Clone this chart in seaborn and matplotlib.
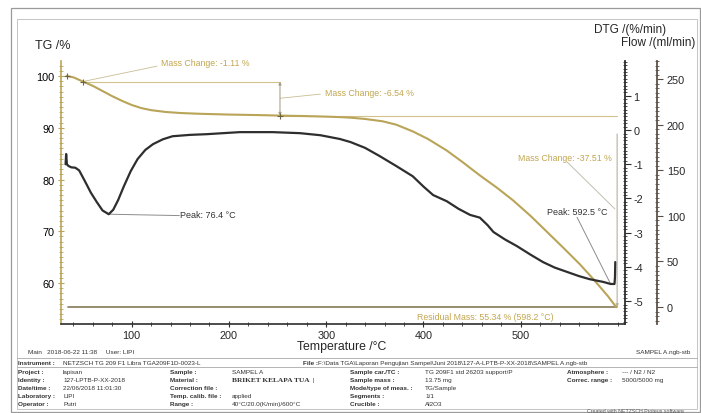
import numpy as np
import pandas as pd
import matplotlib
matplotlib.use("Agg")
import matplotlib.pyplot as plt
from matplotlib.ticker import MultipleLocator
from matplotlib.lines import Line2D
from matplotlib.patches import Rectangle
import seaborn as sns

# ---- measured curves -------------------------------------------------------
# TG (mass, %) versus temperature (°C)
tg_temp = [33, 40, 50.3, 60, 70, 80, 90, 100, 110, 120, 135, 150, 170, 200, 230,
           252.5, 280, 300, 315, 325, 340, 358, 372, 389, 405, 424, 440, 458, 475,
           492, 510, 527, 545, 561, 575, 590, 598.2]
tg_mass = [100.0, 99.75, 98.89, 98.1, 97.1, 96.1, 95.2, 94.4, 93.8, 93.4, 93.05,
           92.85, 92.7, 92.55, 92.45, 92.35, 92.25, 92.15, 92.05, 91.95, 91.7, 91.25,
           90.6, 89.3, 87.8, 85.6, 83.4, 80.8, 78.5, 76.0, 73.0, 69.9, 66.6, 63.6,
           60.7, 57.4, 55.34]

# DTG (%/min) versus temperature (°C)
dtg_temp = [32, 32.6, 33.4, 35, 38, 42, 46, 52, 58, 64, 70, 76.4, 81, 86, 92, 99,
            106, 114, 122, 132, 142, 160, 177, 211, 245, 273, 294, 314, 325, 340,
            355, 372, 389, 400, 410, 424, 436, 448, 458, 466, 472, 484, 496, 510,
            523, 535, 548, 560, 571, 585, 592.5, 596.5, 597, 597.3]
dtg_rate = [-1.00, -0.70, -1.00, -1.05, -1.09, -1.10, -1.18, -1.50, -1.83, -2.10,
            -2.35, -2.46, -2.33, -2.05, -1.64, -1.20, -0.85, -0.58, -0.41, -0.27,
            -0.18, -0.14, -0.12, -0.06, -0.06, -0.09, -0.15, -0.26, -0.35, -0.52,
            -0.76, -1.05, -1.35, -1.65, -1.90, -2.08, -2.30, -2.48, -2.56, -2.78,
            -2.98, -3.20, -3.39, -3.64, -3.86, -4.02, -4.15, -4.27, -4.36, -4.44,
            -4.50, -4.50, -4.30, -3.86]

# evaluated steps
step1_start, step1_end = 50.3, 252.5
mass_start = 100.0
mass_after_step1 = 98.89
mass_after_step2 = 92.35
residual_mass = 55.34
residual_temp = 598.2
peak1_temp, peak1_rate = 76.4, -2.46
peak2_temp, peak2_rate = 592.5, -4.50

change_labels = ["Mass Change: -1.11 %", "Mass Change: -6.54 %", "Mass Change: -37.51 %"]
peak_labels = ["Peak: 76.4 °C", "Peak: 592.5 °C"]
residual_label = "Residual Mass: 55.34 % (598.2 °C)"

temp_ticks = [100, 200, 300, 400, 500]
tg_ticks = [60, 70, 80, 90, 100]
dtg_ticks = [-5, -4, -3, -2, -1, 0, 1]
flow_ticks = [0, 50, 100, 150, 200, 250]

# ---- style -----------------------------------------------------------------
sns.set_style("white")
plt.rcParams["font.family"] = ["Liberation Sans", "DejaVu Sans"]
plt.rcParams["axes.unicode_minus"] = False

TAN = "#b9a458"
TAN_LIGHT = "#d2c28e"
TAN_TEXT = "#c2a650"
GREY = "#8c8c8c"
DARK = "#2e2e2e"

W, H = 701, 414
fig = plt.figure(figsize=(W / 100, H / 100), dpi=100)


def fx(px):
    return px / W


def fy(py):
    return 1 - py / H


ax = fig.add_axes([fx(61), fy(325), fx(625) - fx(61), fy(62) - fy(325)])
ax.set_xlim(27.3, 607.3)
ax.set_ylim(52.08, 102.9)

ax2 = ax.twinx()
ax2.set_ylim(-5.67, 2.02)
ax3 = ax.twinx()
ax3.set_ylim(-18.6, 270)
ax3.spines["right"].set_position(("axes", (657 - 61) / (625 - 61)))

for a in (ax, ax2, ax3):
    a.patch.set_visible(False)
    for s in a.spines.values():
        s.set_visible(False)

# TG axis
ax.spines["left"].set_visible(True)
ax.spines["left"].set_color(TAN)
ax.spines["left"].set_linewidth(1.2)
ax.spines["bottom"].set_visible(True)
ax.spines["bottom"].set_color(DARK)
ax.spines["bottom"].set_linewidth(1.2)
ax.set_yticks(tg_ticks)
ax.yaxis.set_minor_locator(MultipleLocator(1))
ax.set_xticks(temp_ticks)
ax.xaxis.set_minor_locator(MultipleLocator(20))
ax.tick_params(axis="y", which="major", direction="inout", length=5, width=0.8,
               color=TAN, labelsize=7.8, labelcolor="black", pad=2, left=True)
ax.tick_params(axis="y", which="minor", direction="inout", length=2.5, width=0.6,
               color=TAN, left=True)
ax.tick_params(axis="x", which="major", direction="inout", length=5, width=0.8,
               color=DARK, labelsize=7.8, pad=2, bottom=True)
ax.tick_params(axis="x", which="minor", direction="inout", length=3, width=0.6,
               color=DARK, bottom=True)

# DTG axis
ax2.spines["right"].set_visible(True)
ax2.spines["right"].set_color(DARK)
ax2.spines["right"].set_linewidth(1.3)
ax2.set_yticks(dtg_ticks)
ax2.yaxis.set_minor_locator(MultipleLocator(0.1))
ax2.tick_params(axis="y", which="major", direction="out", length=4, width=0.8,
                color=DARK, labelsize=7.8, pad=2, right=True)
ax2.tick_params(axis="y", which="minor", direction="inout", length=3, width=0.6,
                color=DARK, right=True)

# Flow axis
ax3.spines["right"].set_visible(True)
ax3.spines["right"].set_color("#5a5048")
ax3.spines["right"].set_linewidth(1.3)
ax3.set_yticks(flow_ticks)
ax3.yaxis.set_minor_locator(MultipleLocator(5))
ax3.tick_params(axis="y", which="major", direction="out", length=4, width=0.8,
                color="#5a5048", labelsize=7.8, pad=3, right=True)
ax3.tick_params(axis="y", which="minor", direction="inout", length=2.5, width=0.6,
                color="#5a5048", right=True)

# ---- curves ----------------------------------------------------------------
tg_df = pd.DataFrame({"T": tg_temp, "TG": tg_mass})
dtg_df = pd.DataFrame({"T": dtg_temp, "DTG": dtg_rate})
sns.lineplot(data=tg_df, x="T", y="TG", ax=ax, color=TAN, lw=1.5, sort=False,
             estimator=None, zorder=4)
sns.lineplot(data=dtg_df, x="T", y="DTG", ax=ax2, color=DARK, lw=1.6, sort=False,
             estimator=None, zorder=4)
for a in (ax, ax2, ax3):
    a.set_xlabel("")
    a.set_ylabel("")
ax.set_xlim(27.3, 607.3)

# ---- TG evaluation ---------------------------------------------------------
ax.plot([tg_temp[0], step1_start, step1_end], [mass_start, mass_after_step1, mass_after_step2],
        ls="none", marker="+", ms=4, mew=0.8, color="#6e6440", zorder=5)
ax.plot([step1_start, step1_end], [mass_after_step1, mass_after_step1], color=TAN_LIGHT, lw=0.8)
ax.plot([step1_end, residual_temp + 1], [mass_after_step2, mass_after_step2], color=TAN_LIGHT, lw=0.8)
ax.annotate("", xy=(step1_end, mass_after_step2), xytext=(step1_end, mass_after_step1),
            arrowprops=dict(arrowstyle="<|-|>", color="#a09a80", lw=0.7,
                            mutation_scale=4, shrinkA=0, shrinkB=0))
ax.annotate("", xy=(residual_temp + 1, residual_mass), xytext=(residual_temp + 1, 88.8),
            arrowprops=dict(arrowstyle="-|>", color="#b8b29a", lw=0.8,
                            mutation_scale=4, shrinkA=0, shrinkB=0))
ax.plot([34, residual_temp + 1], [residual_mass, residual_mass], color="#857a55", lw=1.2, zorder=3)

ax.text(175.4, 102.6, change_labels[0], color=TAN_TEXT, fontsize=6.3, ha="center", va="center")
ax.plot([126, step1_start + 1], [101.9, mass_after_step1 + 0.1], color="#c9bd95", lw=0.6)
ax.text(344, 96.9, change_labels[1], color=TAN_TEXT, fontsize=6.3, ha="center", va="center")
ax.plot([step1_end, 294], [95.7, 96.5], color="#c9bd95", lw=0.6)
ax.text(594, 84.3, change_labels[2], color=TAN_TEXT, fontsize=6.3, ha="right", va="center")
ax.plot([547.7, 597], [83.4, 74.3], color="#c0c0b0", lw=0.7)
ax.text(464, 53.5, residual_label, color=TAN_TEXT, fontsize=6.3, ha="center", va="center")

# ---- DTG peaks -------------------------------------------------------------
ax2.plot([peak1_temp, 149], [peak1_rate, peak1_rate - 0.04], color=GREY, lw=0.7)
ax2.text(150, -2.48, peak_labels[0], color="#333333", fontsize=6.5, ha="left", va="center")
ax2.text(558, -2.37, peak_labels[1], color="#333333", fontsize=6.5, ha="center", va="center")
ax2.plot([558, peak2_temp], [-2.55, peak2_rate], color=GREY, lw=0.7)

# ---- axis titles -----------------------------------------------------------
fig.text(fx(35), fy(46), "TG /%", fontsize=9, ha="left", va="center")
fig.text(fx(666), fy(30), "DTG /(%/min)", fontsize=8.5, ha="right", va="center")
fig.text(fx(695), fy(43), "Flow /(ml/min)", fontsize=8.5, ha="right", va="center")
fig.text(fx(342), fy(347), "Temperature /°C", fontsize=8.8, ha="center", va="center")

# ---- frames ----------------------------------------------------------------
fig.add_artist(Rectangle((fx(11), fy(413)), fx(700) - fx(11), fy(9) - fy(413),
                         transform=fig.transFigure, fill=False, ec="#9a9a9a", lw=0.9))
fig.add_artist(Rectangle((fx(17), fy(410)), fx(697) - fx(17), fy(20) - fy(410),
                         transform=fig.transFigure, fill=False, ec="#c4c4c4", lw=0.7))
for py in (359, 368):
    fig.add_artist(Line2D([fx(17), fx(697)], [fy(py), fy(py)], transform=fig.transFigure,
                          color="#a8a8a8", lw=0.6))

# ---- report header ---------------------------------------------------------
small = dict(fontsize=4.6, va="center", color="#333333")
fig.text(fx(28), fy(353), "Main   2018-06-22 11:38     User: LIPI", **small)
fig.text(fx(690), fy(353), "SAMPEL A.ngb-stb", ha="right", **small)
fig.text(fx(18), fy(364), "Instrument :", fontweight="bold", **small)
fig.text(fx(63), fy(364), "NETZSCH TG 209 F1 Libra TGA209F1D-0023-L", **small)
fig.text(fx(303), fy(364), "File :", fontweight="bold", **small)
fig.text(fx(318), fy(364),
         "F:\\Data TGA\\Laporan Pengujian Sampel\\Juni 2018\\127-A-LPTB-P-XX-2018\\SAMPEL A.ngb-stb",
         **small)

row_y = [372.5, 380.5, 389, 397, 405]
col1_lab = ["Project :", "Identity :", "Date/time :", "Laboratory :", "Operator :"]
col1_val = ["lapisan", "127-LPTB-P-XX-2018", "22/06/2018 11:01:30", "LIPI", "Putri"]
col2_lab = ["Sample :", "Material :", "Correction file :", "Temp. calib. file :", "Range :"]
col2_val = ["SAMPEL A", "", "", "applied", "40°C/20.0(K/min)/600°C"]
col3_lab = ["Sample car./TC :", "Sample mass :", "Mode/type of meas. :", "Segments :", "Crucible :"]
col3_val = ["TG 209F1 std 26203 support/P", "13.75 mg", "TG/Sample", "1/1", "Al2O3"]
col4_lab = ["Atmosphere :", "Correc. range :"]
col4_val = ["--- / N2 / N2", "5000/5000 mg"]

for i, y in enumerate(row_y):
    fig.text(fx(18), fy(y), col1_lab[i], fontweight="bold", **small)
    fig.text(fx(63), fy(y), col1_val[i], **small)
    fig.text(fx(170), fy(y), col2_lab[i], fontweight="bold", **small)
    fig.text(fx(232), fy(y), col2_val[i], **small)
    fig.text(fx(350), fy(y), col3_lab[i], fontweight="bold", **small)
    fig.text(fx(425), fy(y), col3_val[i], **small)
for i, y in enumerate(row_y[:2]):
    fig.text(fx(567), fy(y), col4_lab[i], fontweight="bold", **small)
    fig.text(fx(622), fy(y), col4_val[i], **small)
fig.text(fx(232), fy(380.5), "BRIKET KELAPA TUA  |", family=["Liberation Serif", "DejaVu Serif"],
         fontweight="bold", fontsize=5.3, va="center", color="#333333")
fig.text(fx(587), fy(411.5), "Created with NETZSCH Proteus software", fontsize=3.8,
         va="center", color="#555555")

fig.savefig("out.png", dpi=100)
